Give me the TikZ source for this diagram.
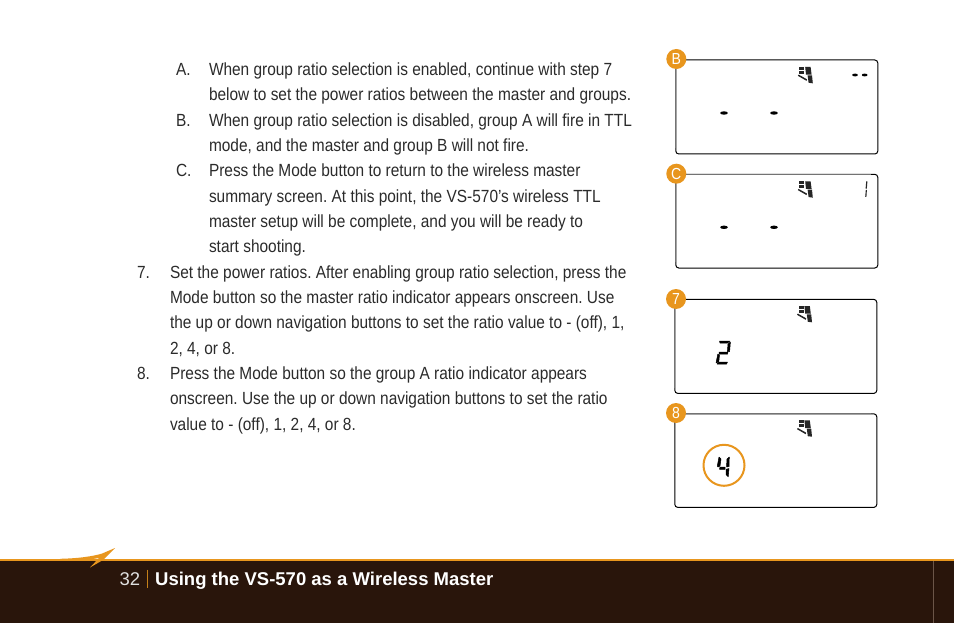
\documentclass[tikz,border=0pt]{standalone}
\usepackage{fontspec}
\setmainfont{Liberation Sans}
\newfontfamily\bodyfont[FakeStretch=0.877]{Liberation Sans}
\usetikzlibrary{calc}
\definecolor{brandorange}{HTML}{E8961E}
\definecolor{footerbrown}{HTML}{29150B}
\definecolor{bodyink}{HTML}{2B2B2B}
\definecolor{footerrule}{HTML}{6B5548}
\frenchspacing
\tikzset{
  x=1pt,y=-1pt,
  line/.style={anchor=base west,inner sep=0pt,outer sep=0pt,text=bodyink,font=\bodyfont\frenchspacing\fontsize{17.6}{20}\selectfont},
  lcd/.style={draw=black,rounded corners=3pt,line width=1pt,fill=white},
  badge/.style={circle,fill=brandorange,minimum size=20pt,inner sep=0pt,text=white,font=\bodyfont\fontsize{16}{18}\selectfont},
  seg/.style={fill=black,draw=black,line width=0.5pt,line join=round},
  iconseg/.style={fill=black!85},
  pics/flashicon/.style={code={
    \fill[iconseg] (1.5,0) rectangle (6.6,2.9);
    \fill[iconseg] (1.5,3.6) rectangle (6.6,6.8);
    \fill[iconseg] (7.4,0) -- (12.8,0) -- (13.8,7.6) -- (8.2,7.6) -- cycle;
    \fill[iconseg] (9.8,8.3) -- (14.2,8.3) -- (15,16.3) -- (10.8,15.8) -- cycle;
    \fill[iconseg] (0,8.8) -- (0.8,7.6) -- (9.2,12.3) -- (8.7,13.8) -- cycle;
  }}
}
\begin{document}
\begin{tikzpicture}
\useasboundingbox (0,0) rectangle (954,623);
\fill[white] (0,0) rectangle (954,623);
% body text
\node[line] (a) at (176,75.6) {A.};
\node[line] (a1) at (209,75.6) {When group ratio selection is enabled, continue with step 7};
\node[line] (a2) at (209,100.6) {below to set the power ratios between the master and groups.};
\node[line] (b) at (176,126.4) {B.};
\node[line] (b1) at (209,126.4) {When group ratio selection is disabled, group A will fire in TTL};
\node[line] (b2) at (209,151.4) {mode, and the master and group B will not fire.};
\node[line] (c) at (176,176.6) {C.};
\node[line] (c1) at (209,176.6) {Press the Mode button to return to the wireless master};
\node[line] (c2) at (209,202.2) {summary screen. At this point, the VS-570’s wireless TTL};
\node[line] (c3) at (209,227.4) {master setup will be complete, and you will be ready to};
\node[line] (c4) at (209,252.4) {start shooting.};
\node[line] (s7) at (137,278.2) {7.};
\node[line] (s71) at (170,278.2) {Set the power ratios. After enabling group ratio selection, press the};
\node[line] (s72) at (170,303.4) {Mode button so the master ratio indicator appears onscreen. Use};
\node[line] (s73) at (170,328.4) {the up or down navigation buttons to set the ratio value to - (off), 1,};
\node[line] (s74) at (170,354) {2, 4, or 8.};
\node[line] (s8) at (137,379.2) {8.};
\node[line] (s81) at (170,379.2) {Press the Mode button so the group A ratio indicator appears};
\node[line] (s82) at (170,404.4) {onscreen. Use the up or down navigation buttons to set the ratio};
\node[line] (s83) at (170,430) {value to - (off), 1, 2, 4, or 8.};
% LCD panels
\draw[lcd] (675.8,60) rectangle (877.8,154);
\draw[lcd] (675.8,174.3) rectangle (877.8,268);
\draw[lcd] (674.8,299.4) rectangle (876.8,393.4);
\draw[lcd] (674.8,413.8) rectangle (876.8,507.4);
\draw[black!55,line width=1pt] (675.8,66) -- (675.8,148);
\draw[black!55,line width=1pt] (675.8,180) -- (675.8,262);
\draw[black!55,line width=1.2pt] (674.8,305) -- (674.8,388);
\draw[black!55,line width=1pt] (682,413.8) -- (871,413.8);
\draw[black!55,line width=1pt] (682,174.3) -- (871,174.3);
\node[badge] (bB) at (676.3,59) {B};
\node[badge] (bC) at (676.3,173.7) {C};
\node[badge] (b7) at (676,299) {7};
\node[badge] (b8) at (676,413) {8};
% LCD icons
\pic at (797.8,67) {flashicon};
\pic at (797.8,181.3) {flashicon};
\pic at (797,306) {flashicon};
\pic at (797,420.4) {flashicon};
% LCD dots
\foreach \x/\y/\rx/\ry in {724/113/3.8/1.7,774/113/3.8/1.7,855/75/2.9/1.4,864.7/75/2.9/1.4,724/227.3/3.8/1.7,774/227.3/3.8/1.7}
  \fill[black] (\x,\y) ellipse [x radius=\rx,y radius=\ry];
% digit 1 in panel C
\fill[iconseg] (866.2,181.5) -- (867.4,181.5) -- (866.8,188.6) -- (865.6,188.6) -- cycle;
\fill[iconseg] (865.8,190) -- (866.9,190) -- (866.4,197) -- (865.2,197) -- cycle;
% digit 2
\fill[seg] (719.5,341) -- (730,341) -- (727.5,343) -- (720,343) -- cycle;
\fill[seg] (730.4,342) -- (729.6,351.5) -- (727.4,351.5) -- (728,344) -- cycle;
\fill[seg] (719,352) -- (728,352) -- (727.5,354) -- (719.2,354) -- cycle;
\fill[seg] (717.8,354) -- (719.5,355) -- (718.8,361.6) -- (716,363) -- cycle;
\fill[seg] (719,362) -- (727.5,362) -- (726.5,364) -- (717,364) -- cycle;
% digit 4
\fill[seg] (719,457) -- (721,459) -- (720,466) -- (718,467) -- (717.3,466) -- cycle;
\fill[seg] (720,467) -- (725,467) -- (725,469.4) -- (719.5,469.4) -- cycle;
\fill[seg] (729.3,457) -- (729,466.5) -- (726.5,467) -- (727,459) -- cycle;
\fill[seg] (726,469.3) -- (729,468.5) -- (728.2,476.8) -- (726,474.5) -- cycle;
% highlight ring
\node[circle,draw=brandorange,line width=2pt,minimum size=41pt,inner sep=0pt] (ring) at (724,465.3) {};
% footer
\fill[footerbrown] (0,560.5) rectangle (954,623);
\fill[brandorange] (0,559) rectangle (954,561);
\fill[brandorange] (60,558.8) .. controls (78,558.4) and (92,556.5) .. (102,553.6) -- (115,548) -- (103,560) -- (90,567.5) -- (99,558) .. controls (92,559.4) and (78,560.5) .. (60,560.5) -- cycle;
\draw[footerrule,line width=1pt] (933.5,561) -- (933.5,623);
\node[anchor=base west,inner sep=0pt,text=white!88!black,font=\fontsize{18.5}{20}\selectfont] (pg) at (119.5,585) {32};
\node[anchor=base west,inner sep=0pt,text=white,font=\bfseries\fontsize{18.5}{20}\selectfont] (title) at (155,585) {Using the VS-570 as a Wireless Master};
\draw[brandorange!85!black,line width=0.9pt] (147.5,569.5) -- (147.5,588);
\end{tikzpicture}
\end{document}
